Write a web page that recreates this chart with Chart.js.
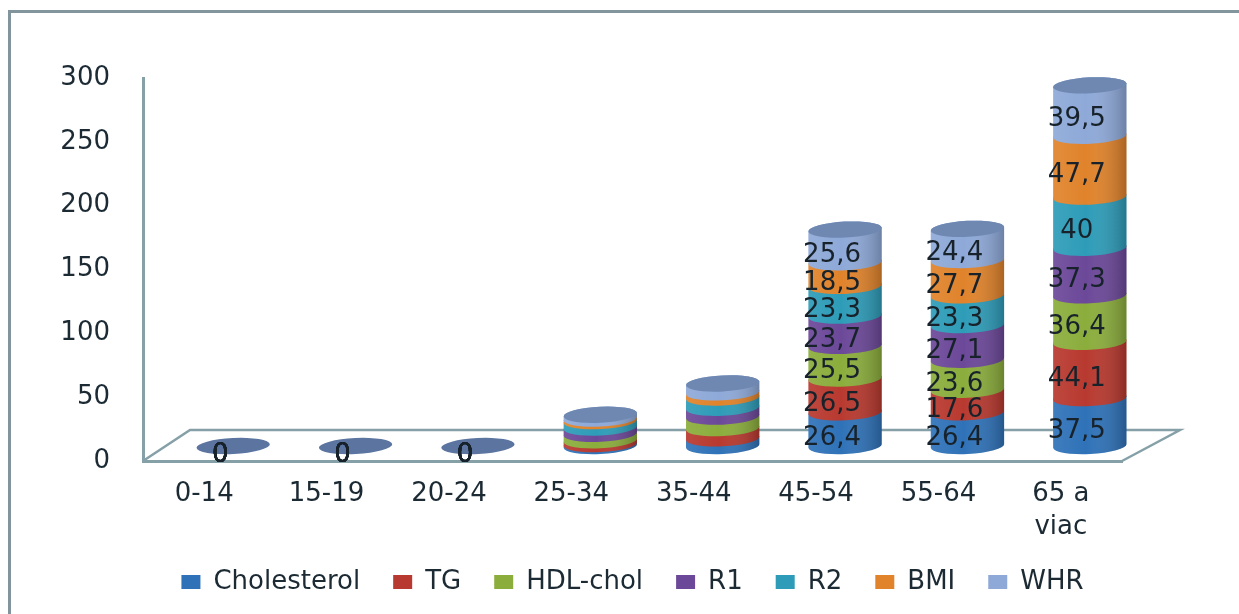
<!DOCTYPE html>
<html>
<head>
<meta charset="utf-8">
<title>Chart</title>
<script src="https://cdn.jsdelivr.net/npm/chart.js@4"></script>
<style>
    html, body { margin: 0; padding: 0; background: #fff; overflow: hidden; }
    #wrap { position: relative; width: 1239px; height: 614px; filter: blur(0.6px); }
    #frame { position: absolute; left: 8px; top: 10px; right: -5px; bottom: -5px; border: 3px solid #83959c; }
    canvas { position: absolute; left: 0; top: 0; }
</style>
</head>
<body>
<div id="wrap">
    <div id="frame"></div>
    <canvas id="chart" width="1239" height="614"></canvas>
</div>
<script>
const categories = ['0-14', '15-19', '20-24', '25-34', '35-44', '45-54', '55-64', ['65 a', 'viac']];

const cholesterol = [0, 0, 0, 1.5, 6, 26.4, 26.4, 37.5];
const tg = [0, 0, 0, 3, 8, 26.5, 17.6, 44.1];
const hdlChol = [0, 0, 0, 5, 9, 25.5, 23.6, 36.4];
const r1 = [0, 0, 0, 5, 7, 23.7, 27.1, 37.3];
const r2 = [0, 0, 0, 5, 8, 23.3, 23.3, 40];
const bmi = [0, 0, 0, 2, 4, 18.5, 27.7, 47.7];
const whr = [0, 0, 0, 3, 7, 25.6, 24.4, 39.5];

const seriesNames = ['Cholesterol', 'TG', 'HDL-chol', 'R1', 'R2', 'BMI', 'WHR'];
const seriesValues = [cholesterol, tg, hdlChol, r1, r2, bmi, whr];
const seriesColors = ['#2f72b8', '#b8392f', '#8bad3c', '#6c4899', '#2e9cb8', '#e0832b', '#8ea9d8'];

// 3D look: the bars sit on a floor shifted from the axes
const depthX = 29;
const depthY = -15;
const capRadiusY = 8;
const tilt = -0.05;
const fontName = '"DejaVu Sans", sans-serif';
const textColor = '#1c2a34';
const axisColor = '#86a0a8';

// Sàn 3D phía sau các cột
const drawFloor = (ctx, area) => {
    ctx.save();
    ctx.strokeStyle = axisColor;
    ctx.lineWidth = 2.5;
    ctx.beginPath();
    ctx.moveTo(area.left, area.bottom);
    ctx.lineTo(area.left + 47, area.bottom - 31);
    ctx.lineTo(area.right + 58, area.bottom - 31);
    ctx.lineTo(area.right, area.bottom);
    ctx.stroke();
    ctx.restore();
};

const drawSegment = (ctx, el, color) => {
    const cx = el.x + depthX;
    const rx = el.width / 2;
    const top = el.y + depthY;
    const bottom = el.base + depthY;
    const shade = ctx.createLinearGradient(cx - rx, 0, cx + rx, 0);
    shade.addColorStop(0, 'rgba(255,255,255,0.08)');
    shade.addColorStop(0.45, 'rgba(255,255,255,0)');
    shade.addColorStop(1, 'rgba(0,0,0,0.24)');

    ctx.beginPath();
    ctx.ellipse(cx, bottom, rx, capRadiusY, tilt, 0, Math.PI);
    ctx.ellipse(cx, top, rx, capRadiusY, tilt, Math.PI, Math.PI * 2);
    ctx.closePath();
    ctx.fillStyle = color;
    ctx.fill();
    ctx.fillStyle = shade;
    ctx.fill();
};

const cylinderPlugin = {
    id: 'cylinders',
    beforeDatasetsDraw(chart) {
        const ctx = chart.ctx;
        drawFloor(ctx, chart.chartArea);

        chart.data.datasets.forEach((ds, i) => {
            chart.getDatasetMeta(i).data.forEach(el => {
                if (Math.abs(el.base - el.y) > 0) {
                    drawSegment(ctx, el, seriesColors[i]);
                }
            });
        });

        // top caps
        const last = chart.getDatasetMeta(chart.data.datasets.length - 1).data;
        last.forEach(el => {
            ctx.beginPath();
            ctx.ellipse(el.x + depthX, el.y + depthY, el.width / 2, capRadiusY, tilt, 0, Math.PI * 2);
            ctx.fillStyle = Math.abs(el.base - el.y) > 0 ? '#6e88b2' : '#5c75a0';
            ctx.fill();
        });
    },
    // the cylinders replace the flat bars
    beforeDatasetDraw() {
        return false;
    },
    afterDatasetsDraw(chart) {
        const ctx = chart.ctx;
        ctx.save();
        ctx.font = '26px ' + fontName;
        ctx.fillStyle = '#18222b';
        ctx.textAlign = 'center';
        ctx.textBaseline = 'middle';
        chart.data.datasets.forEach((ds, i) => {
            chart.getDatasetMeta(i).data.forEach((el, j) => {
                const value = ds.data[j];
                // small stacks (25-44) carry no labels in the original
                if (value !== 0 && value < 15) return;
                const text = String(value).replace('.', ',');
                ctx.fillText(text, el.x + 16, (el.y + el.base) / 2 - 6);
            });
        });
        ctx.restore();
    }
};

new Chart(document.getElementById('chart'), {
    type: 'bar',
    data: {
        labels: categories,
        datasets: seriesNames.map((name, i) => ({
            label: name,
            data: seriesValues[i],
            backgroundColor: seriesColors[i]
        }))
    },
    plugins: [cylinderPlugin],
    options: {
        responsive: false,
        animation: false,
        categoryPercentage: 1,
        barPercentage: 0.6,
        layout: { padding: { left: 0, right: 117, top: 78, bottom: 9 } },
        scales: {
            x: {
                stacked: true,
                grid: { display: false },
                border: { color: axisColor, width: 3 },
                ticks: {
                    color: textColor,
                    font: { family: fontName, size: 26, lineHeight: 1.3 },
                    padding: 8,
                    maxRotation: 0
                },
                afterFit: (scale) => { scale.height = 75; }
            },
            y: {
                stacked: true,
                min: 0,
                max: 300,
                grid: { display: false },
                border: { color: axisColor, width: 3 },
                ticks: {
                    stepSize: 50,
                    color: textColor,
                    font: { family: fontName, size: 26 },
                    padding: 25
                },
                afterFit: (scale) => { scale.width = 143; }
            }
        },
        plugins: {
            tooltip: { enabled: false },
            legend: {
                position: 'bottom',
                fullSize: false,
                labels: {
                    color: textColor,
                    font: { family: fontName, size: 26 },
                    boxWidth: 19,
                    boxHeight: 14,
                    padding: 33
                }
            }
        }
    }
});
</script>
</body>
</html>
